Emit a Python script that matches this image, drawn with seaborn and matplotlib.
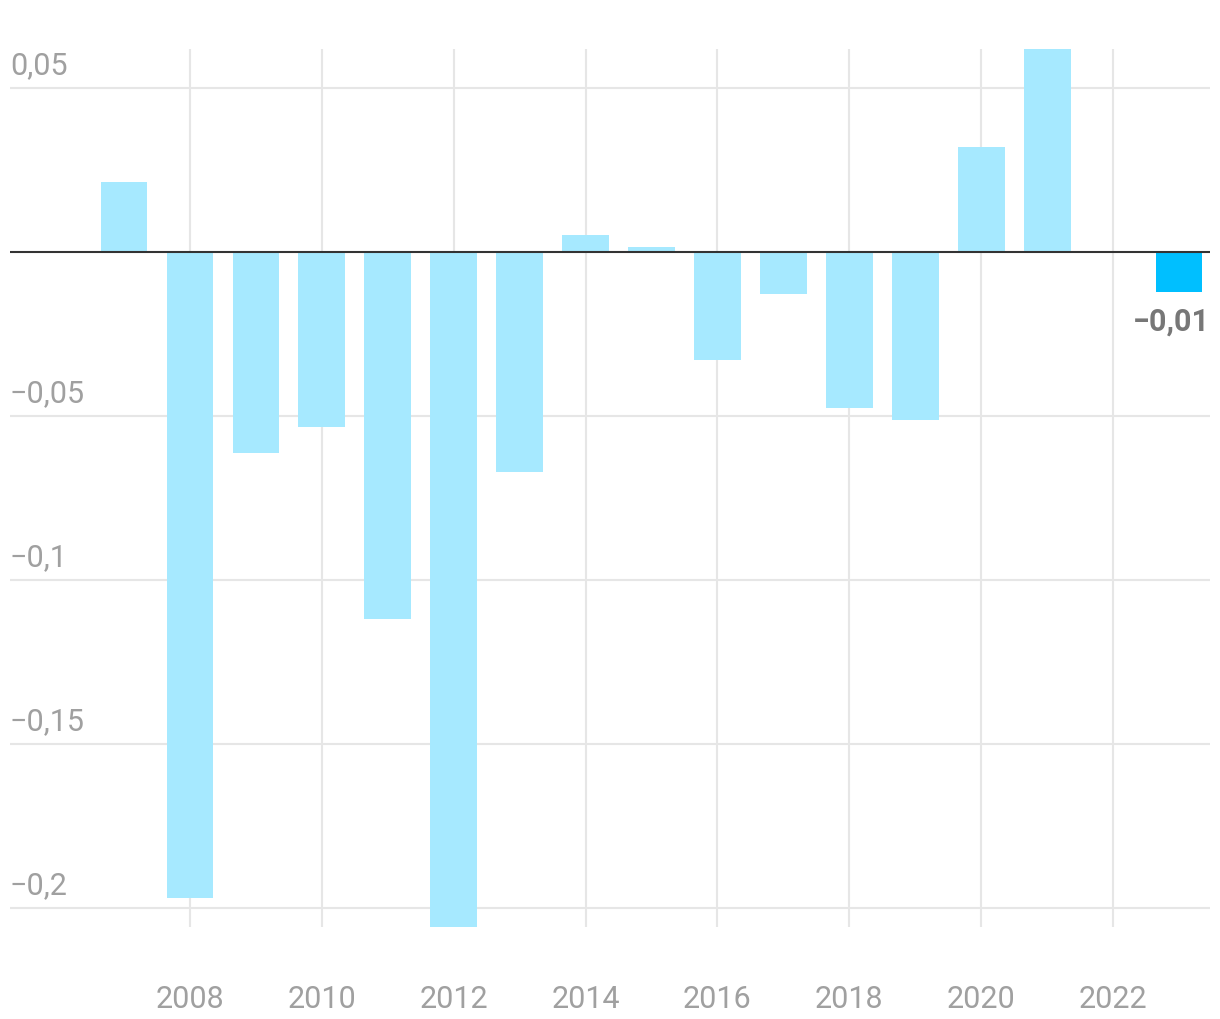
import matplotlib
matplotlib.use("Agg")
import matplotlib.pyplot as plt
import matplotlib.transforms as mtransforms
import seaborn as sns
import pandas as pd

years = [2007, 2008, 2009, 2010, 2011, 2012, 2013, 2014, 2015, 2016, 2017, 2018, 2019, 2020, 2021, 2023]
values = [0.0213, -0.197, -0.0613, -0.0534, -0.1119, -0.2065, -0.0671, 0.0052, 0.0015,
          -0.0329, -0.0128, -0.0476, -0.0512, 0.0320, 0.0625, -0.0122]
highlight = [False] * 15 + [True]
ytick_vals = [0.05, -0.05, -0.1, -0.15, -0.2]
ytick_labels = ["0,05", "\u22120,05", "\u22120,1", "\u22120,15", "\u22120,2"]
xtick_vals = [2008, 2010, 2012, 2014, 2016, 2018, 2020, 2022]
value_label = "\u22120,01"

df = pd.DataFrame({"year": years, "value": values, "hl": highlight})

sns.set_style("white")
plt.rcParams["font.family"] = ["Roboto", "DejaVu Sans"]

W, H = 1220, 1020
fig = plt.figure(figsize=(W / 100, H / 100), dpi=100)
ax = fig.add_axes([10 / W, (H - 928) / H, 1200 / W, 878 / H])

grid_c = "#e6e6e6"
for x in xtick_vals:
    ax.axvline(x, color=grid_c, lw=1.5, zorder=0)
for y in ytick_vals:
    ax.axhline(y, color=grid_c, lw=1.5, zorder=0)

sns.barplot(data=df, x="year", y="value", hue="hl", palette={False: "#a6e9ff", True: "#00bfff"},
            native_scale=True, width=0.71, dodge=False, legend=False, ax=ax, zorder=2,
            saturation=1, linewidth=0)

ax.axhline(0, color="#333333", lw=1.5, zorder=3)

ax.set_xlim(2005.27, 2023.47)
ax.set_ylim(-0.2058, 0.0619)
for s in ax.spines.values():
    s.set_visible(False)

ax.set_xticks(xtick_vals)
ax.set_xticklabels([str(x) for x in xtick_vals])
ax.tick_params(axis="x", length=0, pad=41, labelsize=22, labelcolor="#a0a0a0")
ax.set_yticks([])
ax.set_xlabel("")
ax.set_ylabel("")

trans = mtransforms.blended_transform_factory(ax.transAxes, ax.transData)
off = mtransforms.offset_copy(trans, fig=fig, x=0, y=9, units="dots")
for v, lab in zip(ytick_vals, ytick_labels):
    ax.text(0, v, lab, transform=off, ha="left", va="bottom", fontsize=22, color="#a0a0a0")

offv = mtransforms.offset_copy(ax.transData, fig=fig, x=0, y=-14, units="dots")
ax.text(2023.47, values[-1], value_label, transform=offv, ha="right", va="top",
        fontsize=22, fontweight="bold", color="#777777")

fig.savefig("out.png", dpi=100, facecolor="white")
